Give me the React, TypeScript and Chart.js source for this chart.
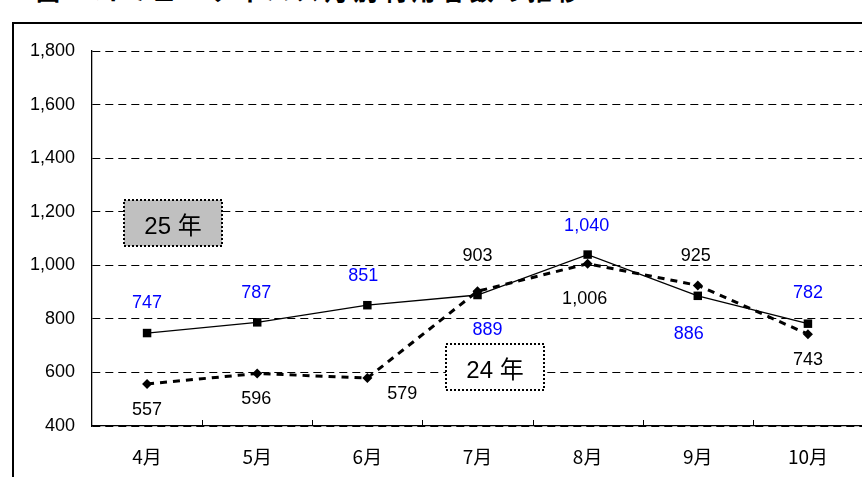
import React, { useEffect, useRef } from "react";
import { Chart, registerables } from "chart.js";

Chart.register(...registerables);

// ---- data ----
const categories = ["4月", "5月", "6月", "7月", "8月", "9月", "10月"];
const series25Name = "25 年";
const series24Name = "24 年";
const series25 = [747, 787, 851, 889, 1040, 886, 782];
const series24 = [557, 596, 579, 903, 1006, 925, 743];
const yMin = 400;
const yMax = 1800;
const yStep = 200;
const titleText = "図　コミュニティバス月別利用者数の推移";

// ---- label placement (style only, relative to each point) ----
const offsets25: [number, number][] = [[0, -30], [-1, -29], [-4, -29], [10, 35], [-1, -29], [-9, 38], [0, -31]];
const offsets24: [number, number][] = [[0, 26], [-1, 26], [35, 16], [0, -35], [-3, 35], [-2, -29], [0, 26]];

const NUM_FONT = '"Liberation Sans", Arial, "Noto Sans CJK JP", sans-serif';
const JP_FONT = '"Noto Sans CJK JP", "Liberation Sans", sans-serif';

const overlayPlugin = {
  id: "overlay",
  beforeDatasetsDraw(chart: any) {
    const ctx = chart.ctx as CanvasRenderingContext2D;
    const boxes = [
      { x: 124, y: 200, w: 98, h: 46, fill: "#c0c0c0", text: series25Name },
      { x: 446, y: 344, w: 98, h: 46, fill: "#ffffff", text: series24Name },
    ];
    ctx.save();
    for (const b of boxes) {
      ctx.fillStyle = b.fill;
      ctx.fillRect(b.x, b.y, b.w, b.h);
      ctx.strokeStyle = "#000";
      ctx.lineWidth = 2;
      ctx.setLineDash([2, 2]);
      ctx.strokeRect(b.x, b.y, b.w, b.h);
      ctx.setLineDash([]);
      ctx.fillStyle = "#000";
      ctx.font = `24px ${NUM_FONT}`;
      ctx.textAlign = "center";
      ctx.textBaseline = "middle";
      ctx.fillText(b.text, b.x + b.w / 2, b.y + b.h / 2 + 4);
    }
    ctx.restore();
  },
  afterDraw(chart: any) {
    const ctx = chart.ctx as CanvasRenderingContext2D;
    const xs = chart.scales.x;
    const area = chart.chartArea;
    ctx.save();
    // category boundary tick marks, inside the plot
    ctx.strokeStyle = "#000";
    ctx.lineWidth = 1;
    for (let i = 0; i < categories.length - 1; i++) {
      const x = Math.round((xs.getPixelForValue(i) + xs.getPixelForValue(i + 1)) / 2) + 0.5;
      ctx.beginPath();
      ctx.moveTo(x, area.bottom - 6);
      ctx.lineTo(x, area.bottom);
      ctx.stroke();
    }
    // data labels
    ctx.font = `18px ${NUM_FONT}`;
    ctx.textAlign = "center";
    ctx.textBaseline = "middle";
    const draw = (dsIndex: number, values: number[], offs: [number, number][], color: string) => {
      const meta = chart.getDatasetMeta(dsIndex);
      ctx.fillStyle = color;
      values.forEach((v, i) => {
        const pt = meta.data[i];
        ctx.fillText(v.toLocaleString("en-US"), pt.x + offs[i][0], pt.y + offs[i][1]);
      });
    };
    draw(0, series25, offsets25, "#0000ff");
    draw(1, series24, offsets24, "#000000");
    ctx.restore();
  },
};

export default function App() {
  const ref = useRef<HTMLCanvasElement | null>(null);

  useEffect(() => {
    if (!ref.current) return;
    const chart = new Chart(ref.current, {
      type: "line",
      data: {
        labels: categories,
        datasets: [
          {
            label: series25Name,
            data: series25,
            borderColor: "#000",
            borderWidth: 1.3,
            pointStyle: "rect",
            pointRadius: 6,
            pointBackgroundColor: "#000",
            pointBorderColor: "#000",
            pointBorderWidth: 0,
            tension: 0,
          },
          {
            label: series24Name,
            data: series24,
            borderColor: "#000",
            borderWidth: 3,
            borderDash: [7, 6],
            pointStyle: "rectRot",
            pointRadius: 5,
            pointBackgroundColor: "#000",
            pointBorderColor: "#000",
            pointBorderWidth: 0,
            tension: 0,
          },
        ],
      },
      options: {
        responsive: false,
        animation: false,
        devicePixelRatio: 1,
        layout: { padding: { left: 0, top: 51, right: 37, bottom: 0 } },
        plugins: { legend: { display: false }, tooltip: { enabled: false }, title: { display: false } },
        scales: {
          x: {
            type: "category",
            offset: true,
            grid: { display: false, drawTicks: false },
            border: { display: true, color: "#000", width: 1.3 },
            ticks: { color: "#000", padding: 19, font: { family: JP_FONT, size: 19 }, maxRotation: 0 },
            afterFit: (s: any) => { s.height = 51; },
          },
          y: {
            min: yMin,
            max: yMax,
            grid: { color: "#000", lineWidth: 1, drawTicks: false },
            border: { display: true, color: "#000", width: 1.3, dash: [8, 5] },
            ticks: {
              stepSize: yStep,
              color: "#000",
              padding: 17,
              font: { family: NUM_FONT, size: 18 },
              callback: (v: any) => Number(v).toLocaleString("en-US"),
            },
            afterFit: (s: any) => { s.width = 92; },
          },
        },
      },
      plugins: [overlayPlugin],
    });
    return () => chart.destroy();
  }, []);

  return (
    <div style={{ position: "fixed", left: 0, top: 0, width: 862, height: 477, overflow: "hidden", background: "#fff" }}>
      <div
        style={{
          position: "absolute",
          left: 36,
          top: -23,
          fontFamily: JP_FONT,
          fontSize: 24,
          fontWeight: 700,
          lineHeight: "26px",
          letterSpacing: 5,
          whiteSpace: "nowrap",
          color: "#000",
        }}
      >
        {titleText}
      </div>
      <div
        style={{
          position: "absolute",
          left: 12,
          top: 22,
          width: 900,
          height: 500,
          borderLeft: "2px solid #000",
          borderTop: "2px solid #000",
        }}
      />
      <canvas ref={ref} width={900} height={477} style={{ position: "absolute", left: 0, top: 0, width: 900, height: 477 }} />
    </div>
  );
}
